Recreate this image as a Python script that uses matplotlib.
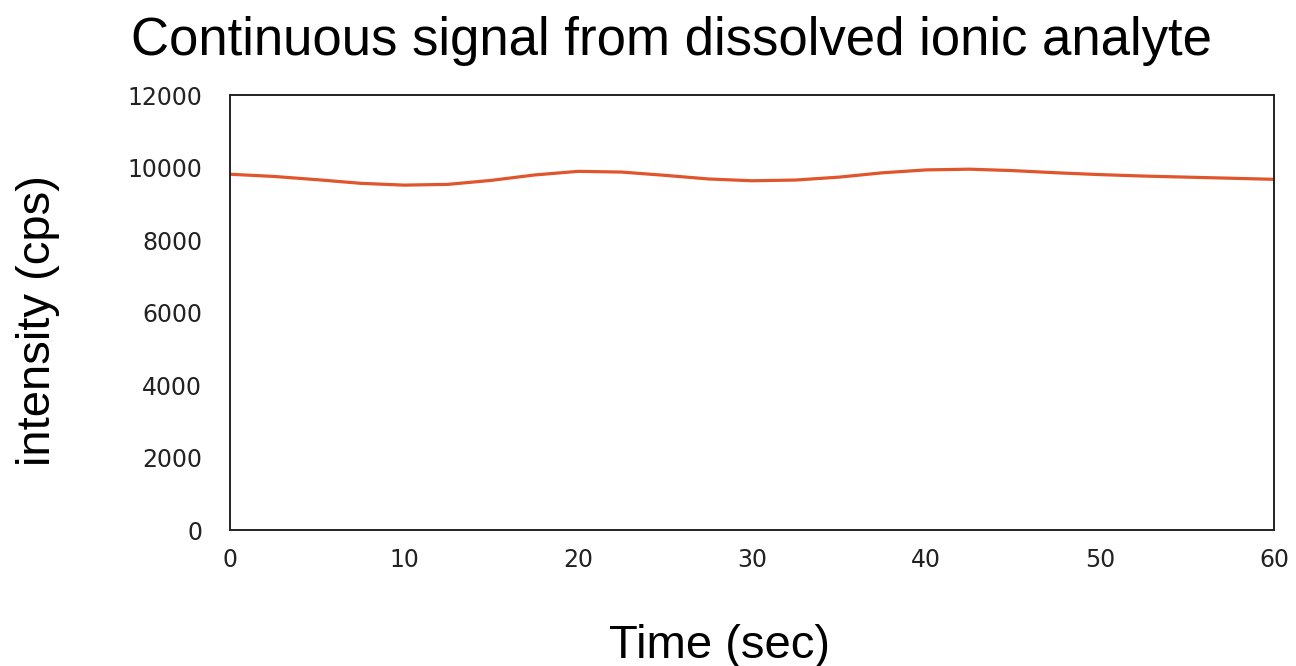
import numpy as np
import matplotlib.pyplot as plt

# values, every 2.5 s
time_sec = [0, 2.5, 5, 7.5, 10, 12.5, 15, 17.5, 20, 22.5, 25, 27.5, 30,
            32.5, 35, 37.5, 40, 42.5, 45, 47.5, 50, 52.5, 55, 57.5, 60]
intensity_cps = [9820, 9760, 9670, 9570, 9520, 9540, 9650, 9800, 9900, 9880, 9790, 9690, 9640,
                 9660, 9740, 9860, 9940, 9960, 9920, 9860, 9810, 9770, 9740, 9710, 9680]

x_ticks = [0, 10, 20, 30, 40, 50, 60]
y_ticks = [0, 2000, 4000, 6000, 8000, 10000, 12000]


def main():
  plt.rcParams['font.family'] = ['Liberation Sans', 'DejaVu Sans']
  fig = plt.figure(figsize=(12.96, 6.66), dpi=100)
  ax = fig.add_axes([0.1775, 0.204, 0.8055, 0.653])

  ax.plot(time_sec, intensity_cps, color='#e0552c', linewidth=2.3, solid_capstyle='butt')

  ax.set_xlim(0, 60)
  ax.set_ylim(0, 12000)
  ax.set_xticks(x_ticks)
  ax.set_yticks(y_ticks)
  ax.tick_params(length=0, labelsize=17, labelcolor='#222222')
  ax.tick_params(axis='x', pad=13)
  ax.tick_params(axis='y', pad=20)
  for lab in ax.get_xticklabels() + ax.get_yticklabels():
    lab.set_family('DejaVu Sans')
  for s in ax.spines.values():
    s.set_linewidth(1.4)
    s.set_color('#222222')

  fig.text(0.518, 0.938, "Continuous signal from dissolved ionic analyte",
           ha='center', va='center', fontsize=38)
  fig.text(0.555, 0.03, "Time (sec)", ha='center', va='center', fontsize=34)
  fig.text(0.029, 0.518, "intensity (cps)", ha='center', va='center',
           rotation=90, fontsize=34)

  fig.savefig("out.png", dpi=100)


if __name__ == "__main__":
  main()
